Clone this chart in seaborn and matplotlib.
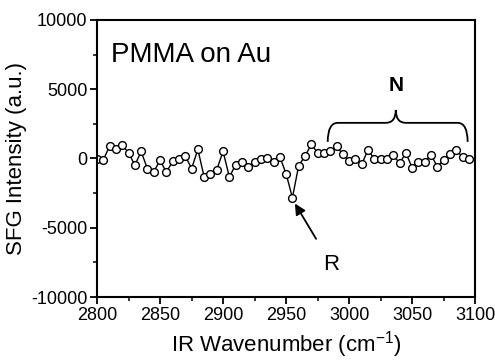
import numpy as np
import pandas as pd
import matplotlib
matplotlib.use("Agg")
import matplotlib.pyplot as plt
from matplotlib.path import Path
from matplotlib.patches import PathPatch
import seaborn as sns

# SFG spectrum, 5 cm-1 steps
wavenumber = list(range(2800, 3100, 5))
intensity = [
    -50, -100, 900, 680, 940, 430, -490, 510, -750, -970,
    -120, -1000, -200, -50, 190, -730, 650, -1340, -1120, -800,
    510, -1340, -440, -290, -650, -220, -30, 20, -270, 120,
    -1100, -2830, -510, 170, 1020, 410, 410, 510, 870, 310,
    -170, -70, -410, 630, -50, -50, -30, 270, -360, 410,
    -680, -220, -220, 270, -610, -100, 290, 600, 90, -30,
]
df = pd.DataFrame({"wavenumber": wavenumber, "intensity": intensity})

sns.set_style("ticks")
plt.rcParams["font.family"] = ["Liberation Sans", "DejaVu Sans"]
plt.rcParams["mathtext.fontset"] = "custom"
plt.rcParams["mathtext.rm"] = "Liberation Sans"
plt.rcParams["axes.unicode_minus"] = False
for key in ["text.color", "axes.labelcolor", "xtick.color", "ytick.color", "axes.edgecolor"]:
    plt.rcParams[key] = "black"

fig = plt.figure(figsize=(4.95, 3.61), dpi=100)
ax = fig.add_axes([0.196, 0.177, 0.764, 0.768])

sns.lineplot(data=df, x="wavenumber", y="intensity", ax=ax, color="black",
             linewidth=1.0, marker="o", markersize=5.6, markerfacecolor="white",
             markeredgecolor="black", markeredgewidth=1.0)

ax.set_xlim(2800, 3100)
ax.set_ylim(-10000, 10000)
ax.set_xticks(np.arange(2800, 3101, 50))
ax.set_yticks(np.arange(-10000, 10001, 5000))
ax.set_xticks(np.arange(2825, 3100, 50), minor=True)
ax.set_yticks(np.arange(-7500, 10000, 5000), minor=True)
ax.tick_params(which="major", direction="out", length=5, width=1.3, labelsize=13, pad=2)
ax.tick_params(which="minor", direction="out", length=3, width=1.1)
for s in ax.spines.values():
    s.set_linewidth(1.5)

ax.set_xlabel("IR Wavenumber (cm$^{-1}$)", fontsize=16, labelpad=4)
ax.set_ylabel("SFG Intensity (a.u.)", fontsize=16, labelpad=3)

ax.text(2811, 7500, "PMMA on Au", fontsize=20, ha="left", va="center")

# R: reference peak
ax.annotate("R", xy=(2957, -3250), xytext=(2986, -7650), fontsize=16,
            ha="center", va="center",
            arrowprops=dict(arrowstyle="-|>", color="black", lw=1.3,
                            mutation_scale=16, shrinkA=10, shrinkB=0))

# N: curly brace over the flat region
x0, x1, xm = 2983, 3094, 3037
yb, yh, yt = 1200, 2570, 3500
verts = [(x0, yb), (x0, yh), (x0 + 8, yh),
         (xm - 8, yh), (xm, yh), (xm, yt),
         (xm, yh), (xm + 8, yh),
         (x1 - 8, yh), (x1, yh), (x1, yb)]
codes = [Path.MOVETO, Path.CURVE3, Path.CURVE3,
         Path.LINETO, Path.CURVE3, Path.CURVE3,
         Path.CURVE3, Path.CURVE3,
         Path.LINETO, Path.CURVE3, Path.CURVE3]
ax.add_patch(PathPatch(Path(verts, codes), facecolor="none", edgecolor="black", lw=1.3))
ax.text(xm, 5250, "N", fontsize=15, fontweight="bold", ha="center", va="center")

fig.savefig("out.png", dpi=100)
